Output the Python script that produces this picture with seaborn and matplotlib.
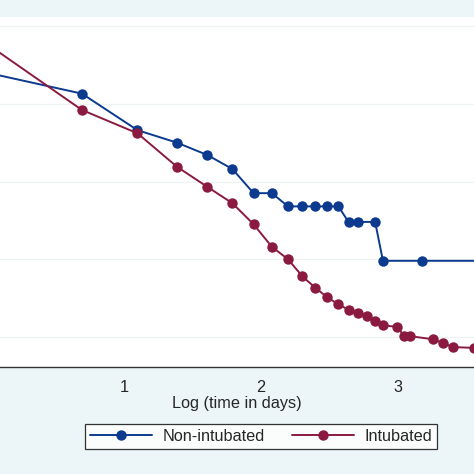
import numpy as np
import pandas as pd
import seaborn as sns
import matplotlib.pyplot as plt
from matplotlib.lines import Line2D

# ---- data (x = log of days) ----
days_non = [1, 2, 3, 4, 5, 6, 7, 8, 9, 10, 11, 12, 13, 14, 15, 17, 18, 24, 40]
val_non = [-0.60, -0.87, -1.34, -1.50, -1.66, -1.84, -2.15, -2.15, -2.32, -2.32,
           -2.32, -2.32, -2.32, -2.52, -2.52, -2.52, -3.02, -3.02, -3.02]

days_int = [1, 2, 3, 4, 5, 6, 7, 8, 9, 10, 11, 12, 13, 14, 15, 16, 17, 18,
            20, 21, 22, 26, 28, 30, 35]
val_int = [-0.23, -1.08, -1.38, -1.81, -2.07, -2.28, -2.55, -2.84, -3.00, -3.22,
           -3.37, -3.49, -3.58, -3.65, -3.69, -3.73, -3.79, -3.85, -3.87, -3.99,
           -3.99, -4.03, -4.08, -4.13, -4.14]

groups = ["Non-intubated", "Intubated"]
colors = {"Non-intubated": "#0b3a8e", "Intubated": "#8a1a40"}
x_ticks = [1, 2, 3]
grid_vals = [-4, -3, -2, -1, 0]

df = pd.concat([
    pd.DataFrame({"logt": np.log(days_non), "val": val_non, "group": groups[0]}),
    pd.DataFrame({"logt": np.log(days_int), "val": val_int, "group": groups[1]}),
])

sns.set_style("white")
plt.rcParams["font.family"] = ["Liberation Sans", "DejaVu Sans"]

bg = "#ecf6f8"
fs = 11.7
fig = plt.figure(figsize=(4.74, 4.74), dpi=100, facecolor=bg)
ax = fig.add_axes([0.0, 1 - 367 / 474, 1.0, 350 / 474])
ax.set_facecolor("white")

sns.lineplot(data=df, x="logt", y="val", hue="group", palette=colors,
             marker="o", markersize=7.5, markeredgewidth=0, linewidth=1.4,
             legend=False, ax=ax, sort=True, estimator=None)

ax.set_xlim(0.0949, 3.555)
ax.set_ylim(-4.386, 0.116)
ax.set_xticks(x_ticks)
ax.set_xticklabels([str(t) for t in x_ticks], fontsize=fs)
ax.set_yticks(grid_vals)
ax.tick_params(axis="y", length=0, labelleft=False)
ax.tick_params(axis="x", direction="out", length=4, width=1, color="#333333", pad=5)
ax.yaxis.grid(True, color="#eef2f3", linewidth=0.9)
ax.set_axisbelow(True)
for s in ["left", "top", "right"]:
    ax.spines[s].set_visible(False)
ax.spines["bottom"].set_color("#333333")
ax.spines["bottom"].set_linewidth(1)
ax.set_xlabel("Log (time in days)", fontsize=fs, labelpad=1)
ax.set_ylabel("")

handles = [Line2D([0], [0], color=colors[g], marker="o", markersize=7.5,
                  markeredgewidth=0, linewidth=1.4) for g in groups]
leg = fig.legend(handles, groups, loc="center", bbox_to_anchor=(261 / 474, 1 - 436.5 / 474),
                 ncol=2, fontsize=fs, frameon=True, fancybox=False,
                 handlelength=3.8, handletextpad=0.65, columnspacing=1.7,
                 borderpad=0.3, edgecolor="black")
leg.get_frame().set_linewidth(0.9)

fig.savefig("out.png", dpi=100, facecolor=bg)
